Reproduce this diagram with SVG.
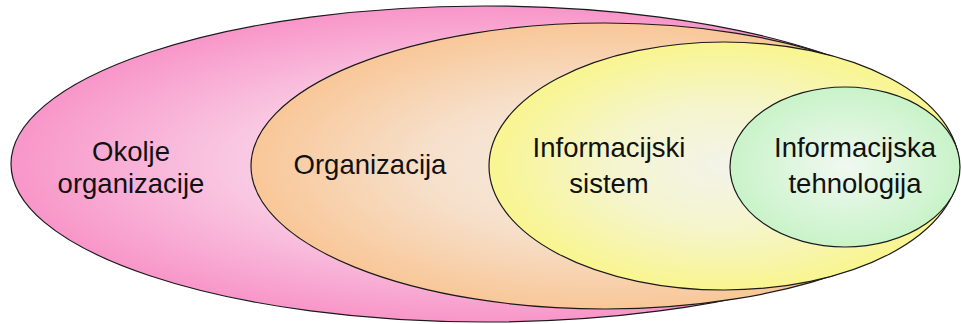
<svg xmlns="http://www.w3.org/2000/svg" width="962" height="324" viewBox="0 0 962 324">
  <style>
    .ring { stroke: #1a1a1a; stroke-width: 1.2; }
    .label { font-family: "Liberation Sans", Arial, sans-serif; font-size: 27.5px; fill: #111; text-anchor: middle; }
  </style>
  <defs>
    <radialGradient id="gPink" cx="0.5" cy="0.5" r="0.5">
      <stop offset="0" stop-color="#fbe6f1"/>
      <stop offset="0.55" stop-color="#f9c6e1"/>
      <stop offset="1" stop-color="#f896c9"/>
    </radialGradient>
    <radialGradient id="gOrange" cx="0.5" cy="0.5" r="0.5">
      <stop offset="0" stop-color="#f6ede6"/>
      <stop offset="0.5" stop-color="#f6e0cb"/>
      <stop offset="1" stop-color="#f9c798"/>
    </radialGradient>
    <radialGradient id="gYellow" cx="0.5" cy="0.5" r="0.5">
      <stop offset="0" stop-color="#f3f3ea"/>
      <stop offset="0.5" stop-color="#f5f5cc"/>
      <stop offset="1" stop-color="#f9f590"/>
    </radialGradient>
    <radialGradient id="gGreen" cx="0.5" cy="0.5" r="0.5">
      <stop offset="0" stop-color="#f1f8f1"/>
      <stop offset="1" stop-color="#c9f3c9"/>
    </radialGradient>
  </defs>

  <g id="okolje">
    <ellipse class="ring" cx="485" cy="164" rx="474" ry="158" fill="url(#gPink)"/>
    <text class="label" x="131" y="161">Okolje</text>
    <text class="label" x="131" y="193">organizacije</text>
  </g>

  <g id="organizacija">
    <ellipse class="ring" cx="605" cy="166" rx="354" ry="143" fill="url(#gOrange)"/>
    <text class="label" x="370" y="174">Organizacija</text>
  </g>

  <g id="informacijski-sistem">
    <ellipse class="ring" cx="724" cy="166" rx="235" ry="124" fill="url(#gYellow)"/>
    <text class="label" x="609" y="157">Informacijski</text>
    <text class="label" x="609" y="193">sistem</text>
  </g>

  <g id="informacijska-tehnologija">
    <ellipse class="ring" cx="845" cy="167" rx="115" ry="80" fill="url(#gGreen)"/>
    <text class="label" x="855" y="157">Informacijska</text>
    <text class="label" x="855" y="193">tehnologija</text>
  </g>
</svg>
